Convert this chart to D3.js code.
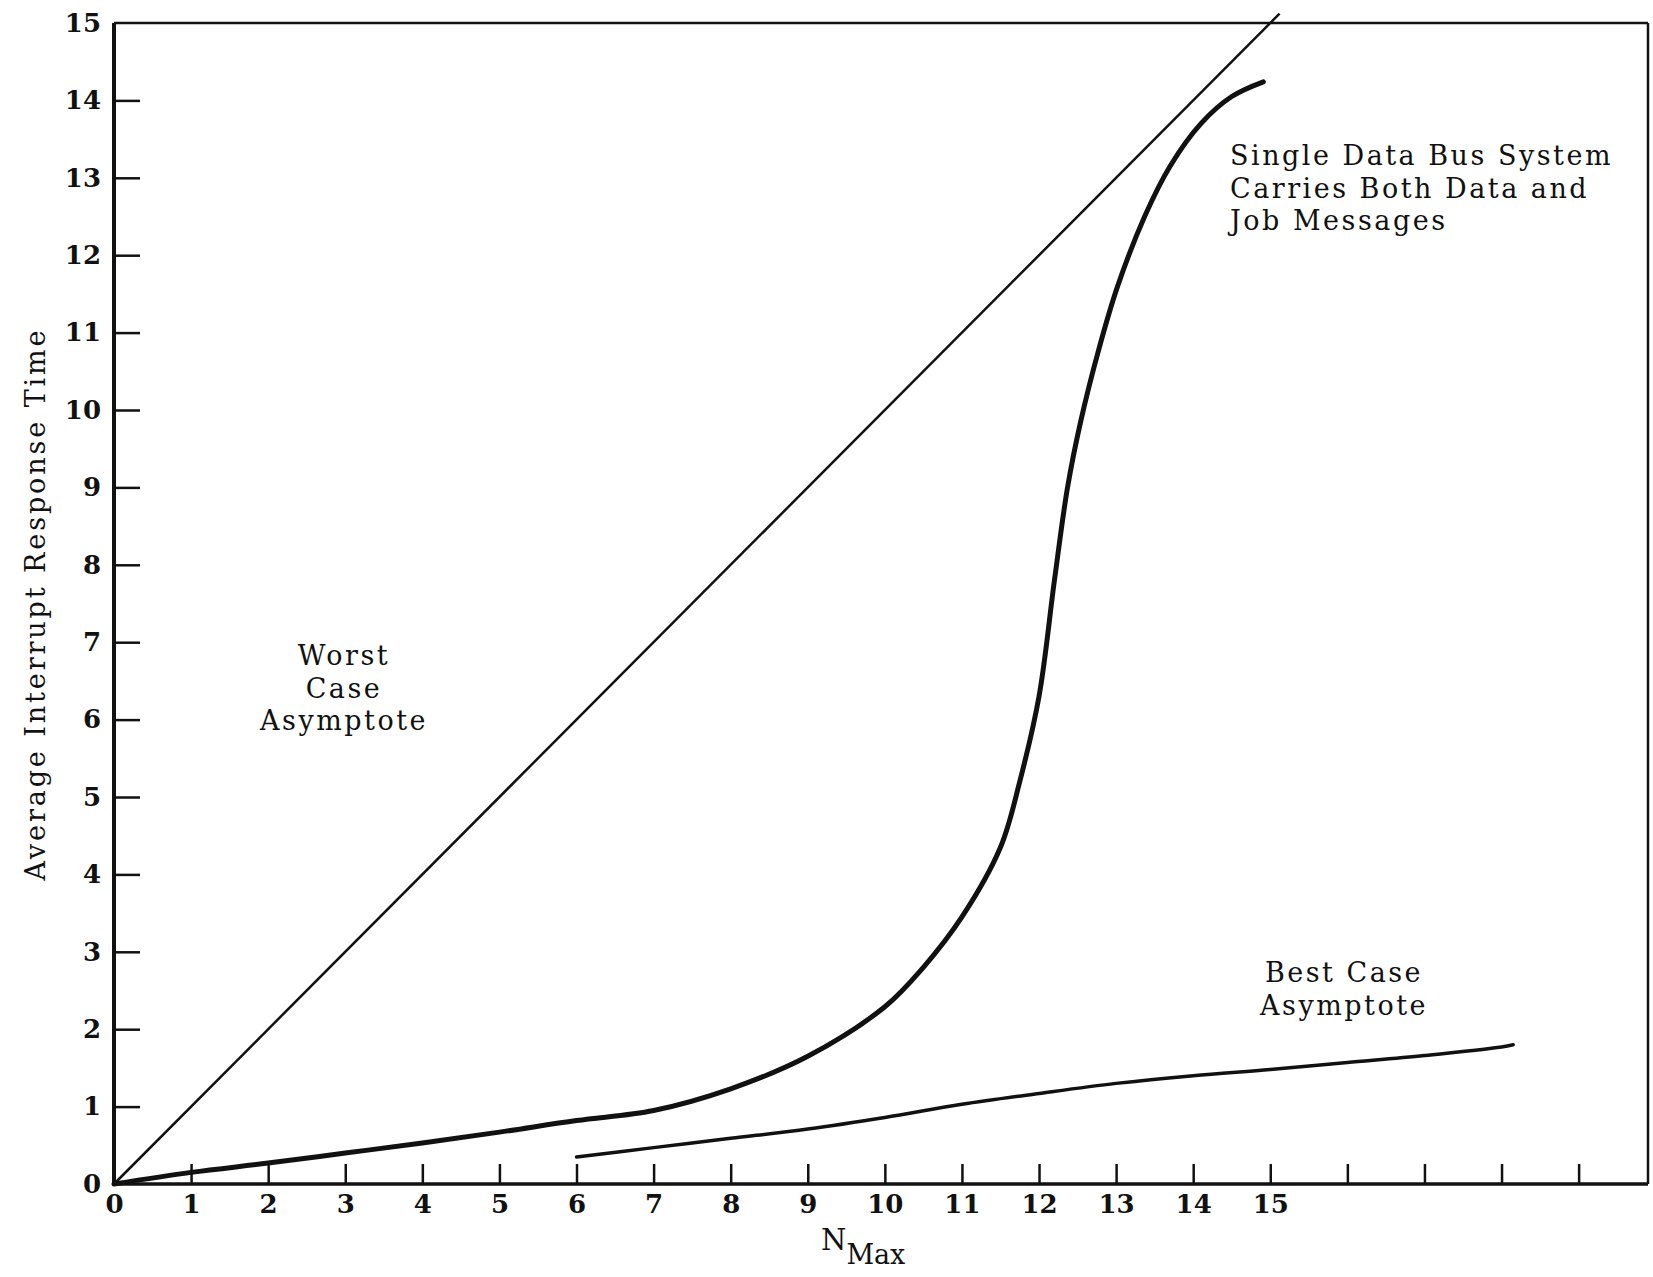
<!DOCTYPE html>
<html>
<head>
<meta charset="utf-8">
<title>Average Interrupt Response Time vs N Max</title>
<script src="https://cdn.jsdelivr.net/npm/d3@7"></script>
<style>
  body { margin: 0; background: #fff; }
  svg text { font-family: "DejaVu Serif", "Liberation Serif", serif; fill: #111; }
</style>
</head>
<body>
<div id="chart"></div>
<script>
// values
var busX   = [0, 1, 2, 3, 4, 5, 6, 7, 8, 9, 10, 10.5, 11, 11.5, 11.75, 12.0, 12.2, 12.37, 12.54, 12.78, 13.02, 13.37, 13.7, 14.1, 14.5, 14.91];
var busY   = [0, 0.15, 0.27, 0.40, 0.53, 0.67, 0.82, 0.95, 1.23, 1.65, 2.29, 2.8, 3.45, 4.35, 5.2, 6.3, 7.8, 9.0, 9.85, 10.8, 11.6, 12.5, 13.15, 13.7, 14.05, 14.24];
var worstX = [0, 15.12];
var worstY = [0, 15.12];
var bestX  = [6, 7, 8, 9, 10, 11, 12, 13, 14, 15, 16, 17, 18, 18.15];
var bestY  = [0.35, 0.47, 0.59, 0.71, 0.86, 1.03, 1.17, 1.30, 1.40, 1.48, 1.57, 1.66, 1.77, 1.80];
var xTicks = [0, 1, 2, 3, 4, 5, 6, 7, 8, 9, 10, 11, 12, 13, 14, 15, 16, 17, 18, 19];
var xLabels = ["0", "1", "2", "3", "4", "5", "6", "7", "8", "9", "10", "11", "12", "13", "14", "15", "", "", "", ""];
var yTicks = [0, 1, 2, 3, 4, 5, 6, 7, 8, 9, 10, 11, 12, 13, 14, 15];

var W = 1653, H = 1277;
var x = d3.scaleLinear().domain([0, 19.9]).range([114, 1648]);
var y = d3.scaleLinear().domain([0, 15]).range([1184, 23]);

var svg = d3.select("#chart").append("svg")
  .attr("width", W)
  .attr("height", H);

function zip(xs, ys) {
  return xs.map(function(v, i) { return [v, ys[i]]; });
}

//axes, ticks point inwards
var yAxis = d3.axisLeft(y)
  .tickValues(yTicks)
  .tickFormat(d3.format("d"))
  .tickSizeInner(-26)
  .tickSizeOuter(0)
  .tickPadding(13);

var xAxis = d3.axisBottom(x)
  .tickValues(xTicks)
  .tickFormat(function(d, i) { return xLabels[i]; })
  .tickSizeInner(-20)
  .tickSizeOuter(0)
  .tickPadding(11);

var gy = svg.append("g").attr("transform", "translate(" + x(0) + ",0)").call(yAxis);
var gx = svg.append("g").attr("transform", "translate(0," + y(0) + ")").call(xAxis);

[gx, gy].forEach(function(g) {
  g.selectAll("text")
    .attr("font-family", "DejaVu Serif")
    .attr("font-size", 26)
    .attr("font-weight", "bold")
    .attr("fill", "#111");
  g.selectAll(".tick line").attr("stroke", "#111").attr("stroke-width", 2.5);
  g.select(".domain").remove();
});
// no tick marks where the frame already is
gy.selectAll(".tick").filter(function(d) { return d === 0 || d === 15; }).select("line").remove();
gx.selectAll(".tick").filter(function(d) { return d === 0; }).select("line").remove();

// frame
svg.append("line")
  .attr("x1", x(0)).attr("x2", x(0)).attr("y1", y(15)).attr("y2", y(0))
  .attr("stroke", "#111").attr("stroke-width", 4);
svg.append("line")
  .attr("x1", x(0)).attr("x2", x(19.9)).attr("y1", y(0)).attr("y2", y(0))
  .attr("stroke", "#111").attr("stroke-width", 3.5);
svg.append("line")
  .attr("x1", x(0)).attr("x2", x(19.9)).attr("y1", y(15)).attr("y2", y(15))
  .attr("stroke", "#111").attr("stroke-width", 2.5);
svg.append("line")
  .attr("x1", x(19.9)).attr("x2", x(19.9)).attr("y1", y(15)).attr("y2", y(0))
  .attr("stroke", "#111").attr("stroke-width", 2.5);

var line = d3.line()
  .x(function(d) { return x(d[0]); })
  .y(function(d) { return y(d[1]); })
  .curve(d3.curveCatmullRom.alpha(0.5));

svg.append("path").datum(zip(worstX, worstY))
  .attr("d", line).attr("fill", "none").attr("stroke", "#111").attr("stroke-width", 2.5);
svg.append("path").datum(zip(bestX, bestY))
  .attr("d", line).attr("fill", "none").attr("stroke", "#111").attr("stroke-width", 3.5)
  .attr("stroke-linecap", "round");
svg.append("path").datum(zip(busX, busY))
  .attr("d", line).attr("fill", "none").attr("stroke", "#111").attr("stroke-width", 5)
  .attr("stroke-linecap", "round");

// annotations
function block(lines, cx, cy, anchor) {
  var t = svg.append("text")
    .attr("font-size", 27)
    .attr("letter-spacing", 2.5)
    .attr("text-anchor", anchor);
  lines.forEach(function(s, i) {
    t.append("tspan").attr("x", cx).attr("y", cy + i * 32.5).attr("dy", "0.35em").text(s);
  });
}
block(["Worst", "Case", "Asymptote"], 344, 656, "middle");
block(["Single Data Bus System", "Carries Both Data and", "Job Messages"], 1230, 156, "start");
block(["Best Case", "Asymptote"], 1344, 973, "middle");

// axis titles
svg.append("text")
  .attr("transform", "translate(36,604) rotate(-90)")
  .attr("text-anchor", "middle")
  .attr("dy", "0.35em")
  .attr("font-size", 27)
  .attr("letter-spacing", 2.9)
  .text("Average Interrupt Response Time");

var nt = svg.append("text")
  .attr("x", 821).attr("y", 1250)
  .attr("font-size", 29);
nt.append("tspan").text("N");
nt.append("tspan").attr("dy", 14).attr("font-size", 27).text("Max");
</script>
</body>
</html>
